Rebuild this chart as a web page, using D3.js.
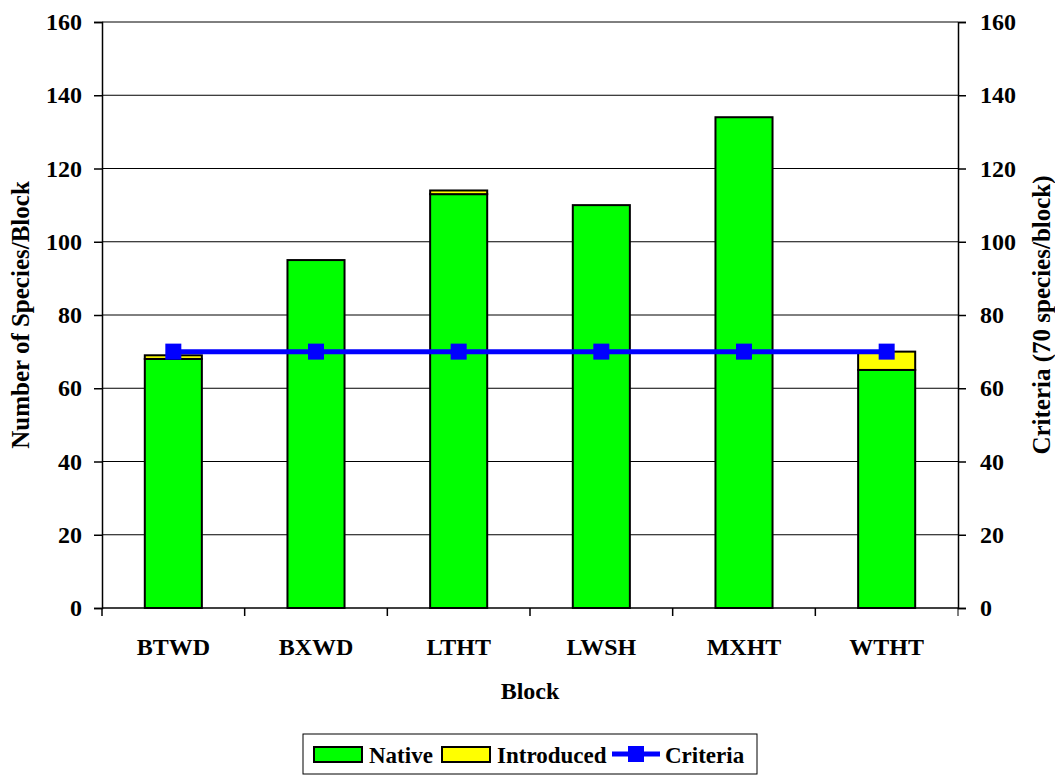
<!DOCTYPE html>
<html>
<head>
<meta charset="utf-8">
<script src="https://cdn.jsdelivr.net/npm/d3@7"></script>
<style>
body { margin: 0; background: #fff; }
svg text { font-family: "Liberation Serif", "Times New Roman", serif !important; font-weight: bold; fill: #000; }
</style>
</head>
<body>
<svg id="chart" width="1055" height="778"></svg>
<script>
var blocks = ["BTWD", "BXWD", "LTHT", "LWSH", "MXHT", "WTHT"];
var native = [68, 95, 113, 110, 134, 65];
var introduced = [1, 0, 1, 0, 0, 5];
var criteria = [70, 70, 70, 70, 70, 70];
var yTicks = [0, 20, 40, 60, 80, 100, 120, 140, 160];

var margin = {top: 22, right: 97, bottom: 170, left: 102},
	width = 1055 - margin.left - margin.right,
	height = 778 - margin.top - margin.bottom;

var svg = d3.select("#chart");
var g = svg.append("g")
	.attr("transform", "translate(" + margin.left + "," + margin.top + ")");

var xScale = d3.scaleBand().domain(blocks).range([0, width]);
var yScale = d3.scaleLinear().domain([0, 160]).range([height, 0]);

// gridlines
g.selectAll(".grid")
	.data(yTicks.filter(function(d) { return d > 0; }))
	.enter().append("line")
	.attr("x1", 0).attr("x2", width)
	.attr("y1", function(d) { return yScale(d); })
	.attr("y2", function(d) { return yScale(d); })
	.attr("stroke", "#000").attr("stroke-width", 1);

var bw = xScale.bandwidth() * 0.4;
var data = blocks.map(function(b, i) {
	return {block: b, native: native[i], introduced: introduced[i], criteria: criteria[i]};
});

var bars = g.selectAll(".bar").data(data).enter().append("g");
bars.append("rect")
	.attr("x", function(d) { return xScale(d.block) + (xScale.bandwidth() - bw) / 2; })
	.attr("width", bw)
	.attr("y", function(d) { return yScale(d.native); })
	.attr("height", function(d) { return height - yScale(d.native); })
	.attr("fill", "#00ff00").attr("stroke", "#000").attr("stroke-width", 2);
bars.filter(function(d) { return d.introduced > 0; }).append("rect")
	.attr("x", function(d) { return xScale(d.block) + (xScale.bandwidth() - bw) / 2; })
	.attr("width", bw)
	.attr("y", function(d) { return yScale(d.native + d.introduced); })
	.attr("height", function(d) { return yScale(d.native) - yScale(d.native + d.introduced); })
	.attr("fill", "#ffff00").attr("stroke", "#000").attr("stroke-width", 2);

// axes
var yAxisL = d3.axisLeft(yScale).tickValues(yTicks).tickSize(8).tickPadding(12);
var yAxisR = d3.axisRight(yScale).tickValues(yTicks).tickSize(8).tickPadding(14);
var gl = g.append("g").call(yAxisL);
var gr = g.append("g").attr("transform", "translate(" + width + ",0)").call(yAxisR);
var gx = g.append("g").attr("transform", "translate(0," + height + ")")
	.call(d3.axisBottom(xScale).tickSize(0).tickPadding(30));
gx.selectAll(".tick").append("line")
	.attr("x1", -xScale.bandwidth() / 2).attr("x2", -xScale.bandwidth() / 2)
	.attr("y1", 0).attr("y2", 8).attr("stroke", "#000");
gx.append("line").attr("x1", width).attr("x2", width).attr("y1", 0).attr("y2", 8).attr("stroke", "#000");
[gl, gr, gx].forEach(function(a) {
	a.attr("font-family", null).attr("font-size", null);
	a.select(".domain").attr("stroke", "#000").attr("stroke-width", 1.5);
	a.selectAll(".tick line").attr("stroke", "#000").attr("stroke-width", 1.5);
	a.selectAll("text").style("font-size", "24px");
});
gx.select(".domain").attr("d", "M0,0H" + width);

// criteria line
var cx = function(d) { return xScale(d.block) + xScale.bandwidth() / 2; };
var line = d3.line().x(cx).y(function(d) { return yScale(d.criteria); });
g.append("path").datum(data).attr("d", line)
	.attr("fill", "none").attr("stroke", "#0000ff").attr("stroke-width", 5);
g.selectAll(".mk").data(data).enter().append("rect")
	.attr("x", function(d) { return cx(d) - 8; })
	.attr("y", function(d) { return yScale(d.criteria) - 8; })
	.attr("width", 16).attr("height", 16).attr("fill", "#0000ff");

// titles
svg.append("text").attr("x", margin.left + width / 2).attr("y", 699)
	.attr("text-anchor", "middle").style("font-size", "24px").text("Block");
svg.append("text").attr("transform", "translate(29," + (margin.top + height / 2) + ") rotate(-90)")
	.attr("text-anchor", "middle").style("font-size", "25px").text("Number of Species/Block");
svg.append("text").attr("transform", "translate(1050," + (margin.top + height / 2) + ") rotate(-90)")
	.attr("text-anchor", "middle").style("font-size", "25px").text("Criteria (70 species/block)");

// legend
var lg = svg.append("g").attr("transform", "translate(303,734)");
lg.append("rect").attr("width", 454).attr("height", 40).attr("fill", "#fff").attr("stroke", "#000").attr("stroke-width", 1);
lg.append("rect").attr("x", 11).attr("y", 13).attr("width", 48).attr("height", 15).attr("fill", "#00ff00").attr("stroke", "#000").attr("stroke-width", 2);
lg.append("text").attr("x", 66).attr("y", 29).style("font-size", "23px").text("Native");
lg.append("rect").attr("x", 139).attr("y", 13).attr("width", 48).attr("height", 15).attr("fill", "#ffff00").attr("stroke", "#000").attr("stroke-width", 2);
lg.append("text").attr("x", 194).attr("y", 29).style("font-size", "23px").text("Introduced");
lg.append("line").attr("x1", 309).attr("x2", 357).attr("y1", 20).attr("y2", 20).attr("stroke", "#0000ff").attr("stroke-width", 5);
lg.append("rect").attr("x", 325).attr("y", 12).attr("width", 16).attr("height", 16).attr("fill", "#0000ff");
lg.append("text").attr("x", 362).attr("y", 29).style("font-size", "23px").text("Criteria");
</script>
</body>
</html>
